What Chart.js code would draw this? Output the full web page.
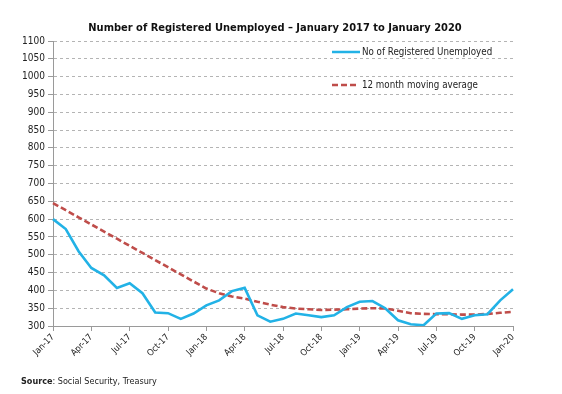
<!DOCTYPE html>
<html>
<head>
<meta charset="utf-8">
<title>Number of Registered Unemployed</title>
<script src="https://cdn.jsdelivr.net/npm/chart.js@4.4.1/dist/chart.umd.min.js"></script>
<style>
  html, body { margin: 0; padding: 0; background: #fff; }
  #wrap { width: 562px; height: 394px; }
</style>
</head>
<body>
<div id="wrap"><canvas id="chart" width="562" height="394"></canvas></div>
<script>
'use strict';

// ******* DATA *******
let months = [
  'Jan-17', 'Feb-17', 'Mar-17', 'Apr-17', 'May-17', 'Jun-17', 'Jul-17', 'Aug-17', 'Sep-17', 'Oct-17', 'Nov-17', 'Dec-17',
  'Jan-18', 'Feb-18', 'Mar-18', 'Apr-18', 'May-18', 'Jun-18', 'Jul-18', 'Aug-18', 'Sep-18', 'Oct-18', 'Nov-18', 'Dec-18',
  'Jan-19', 'Feb-19', 'Mar-19', 'Apr-19', 'May-19', 'Jun-19', 'Jul-19', 'Aug-19', 'Sep-19', 'Oct-19', 'Nov-19', 'Dec-19',
  'Jan-20'
];

let registeredUnemployed = [
  600, 572, 510, 463, 442, 407, 420, 392, 338, 336, 320, 335,
  358, 372, 398, 407, 330, 312, 320, 335, 330, 325, 330, 353,
  368, 370, 350, 316, 305, 302, 335, 336, 320, 330, 333, 372,
  403
];

let movingAverage = [
  645, 625, 605, 585, 565, 545, 525, 505, 485, 465, 445, 425,
  405, 392, 383, 377, 368, 360, 353, 349, 347, 345, 346, 347,
  349, 350, 349, 343, 336, 334, 333, 333, 332, 332, 334, 337,
  340
];

let seriesNames = ['No of Registered Unemployed', '12 month moving average'];
let chartTitle = 'Number of Registered Unemployed \u2013 January 2017 to January 2020';
let yMin = 300;
let yMax = 1100;
let yStep = 50;

// ******* STYLE *******
let fontFamily = '"DejaVu Sans Condensed", "DejaVu Sans", sans-serif';
let blue = '#22b2e6';
let red = '#bf4d4a';
let axisGrey = '#9a9a9a';

// ******* TEXT PLUGIN (title, legend, source) *******
let textPlugin = {
  id: 'textPlugin',
  afterDraw(chart) {
    let ctx = chart.ctx;
    ctx.save();

    // title
    ctx.fillStyle = '#111';
    ctx.font = 'bold 11px ' + fontFamily;
    ctx.textAlign = 'center';
    ctx.textBaseline = 'middle';
    ctx.fillText(chartTitle, 275, 28);

    // legend
    ctx.textAlign = 'left';
    ctx.font = '9.7px ' + fontFamily;
    ctx.fillStyle = '#222';

    ctx.lineWidth = 2.5;
    ctx.strokeStyle = blue;
    ctx.beginPath();
    ctx.moveTo(332, 52);
    ctx.lineTo(360, 52);
    ctx.stroke();
    ctx.fillText(seriesNames[0], 362, 52);

    ctx.strokeStyle = red;
    ctx.setLineDash([6, 3]);
    ctx.beginPath();
    ctx.moveTo(332, 85);
    ctx.lineTo(356, 85);
    ctx.stroke();
    ctx.setLineDash([]);
    ctx.fillText(seriesNames[1], 362, 85);

    // source
    ctx.font = 'bold 9px ' + fontFamily;
    ctx.fillText('Source', 21, 382);
    let w = ctx.measureText('Source').width;
    ctx.font = '9px ' + fontFamily;
    ctx.fillText(': Social Security, Treasury', 21 + w, 382);

    ctx.restore();
  }
};

// ******* CHART *******
let canvasElem = document.getElementById('chart');

let chartObj = {
  type: 'line',
  data: {
    labels: months,
    datasets: [{
      label: seriesNames[0],
      data: registeredUnemployed,
      borderColor: blue,
      borderWidth: 2.6,
      pointRadius: 0,
      tension: 0,
      fill: false
    },
    {
      label: seriesNames[1],
      data: movingAverage,
      borderColor: red,
      borderWidth: 2.6,
      borderDash: [6, 3],
      pointRadius: 0,
      tension: 0,
      fill: false
    }]
  },
  options: {
    responsive: false,
    animation: false,
    layout: {
      padding: { top: 41, right: 49, bottom: 0, left: 0 }
    },
    plugins: {
      legend: { display: false },
      title: { display: false },
      tooltip: { enabled: false }
    },
    scales: {
      x: {
        ticks: {
          autoSkip: false,
          minRotation: 45,
          maxRotation: 45,
          padding: 1,
          color: '#222',
          font: { family: fontFamily, size: 9 },
          callback: function (value, index) {
            return index % 3 === 0 ? months[index] : '';
          }
        },
        grid: {
          drawOnChartArea: false,
          tickLength: 5,
          color: function (context) {
            return context.index % 3 === 0 ? axisGrey : 'rgba(0,0,0,0)';
          }
        },
        border: { color: axisGrey, width: 1 },
        afterFit: function (scale) {
          scale.height = 68;
        }
      },
      y: {
        min: yMin,
        max: yMax,
        ticks: {
          stepSize: yStep,
          padding: 3,
          color: '#222',
          font: { family: fontFamily, size: 10 },
          callback: function (value) {
            return String(value);
          }
        },
        grid: {
          color: '#b4b4b4',
          lineWidth: 1,
          tickLength: 5,
          tickColor: axisGrey
        },
        border: { color: axisGrey, width: 1, dash: [3, 3] },
        afterFit: function (scale) {
          scale.width = 53;
        }
      }
    }
  },
  plugins: [textPlugin]
};

new Chart(canvasElem, chartObj);
</script>
</body>
</html>
